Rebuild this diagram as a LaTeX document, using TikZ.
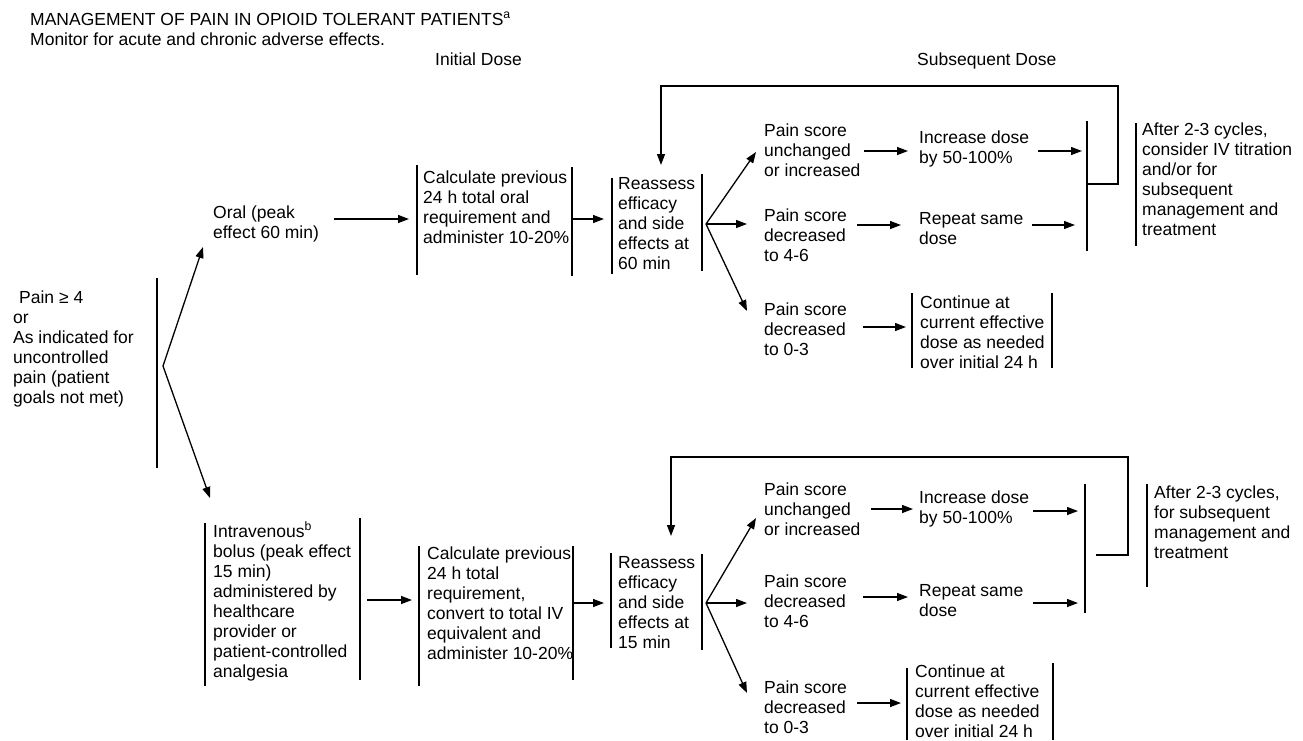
\documentclass[tikz,border=0pt]{standalone}
\usepackage{fontspec}
\setmainfont{Liberation Sans}
\usetikzlibrary{arrows.meta}
\newcommand\bodyfont{\fontsize{17.5}{20}\selectfont}
\newcommand\ml[1]{\begin{tabular}[t]{@{}l@{}}#1\end{tabular}}
\tikzset{
  bar/.style={line width=1.3pt},
  conn/.style={line width=1.3pt},
  arr/.style={line width=1.3pt,-{Triangle[length=11pt,width=8pt]}},
  txt/.style={anchor=base west, inner sep=0pt, font=\bodyfont},
}
\begin{document}
\begin{tikzpicture}[x=1pt,y=-1pt]
\useasboundingbox (0,0) rectangle (1303,740);
% headings
\node[txt] (title) at (30,25) {MANAGEMENT OF PAIN IN OPIOID TOLERANT PATIENTS\textsuperscript{a}};
\node[txt] (monitor) at (30,45) {Monitor for acute and chronic adverse effects.};
\node[txt] (initial) at (435,65) {Initial Dose};
\node[txt] (subseq) at (917,65) {Subsequent Dose};
% start
\node[txt] (start) at (13,303) {\ml{\hspace{6pt}Pain ≥ 4\\or\\As indicated for\\uncontrolled\\pain (patient\\goals not met)}};
\draw[bar] (157,278) -- (157,468);
\coordinate (apex) at (163,366);
\coordinate (oralTip) at (203,247);
\coordinate (ivTip) at (210,498);
\draw[arr] (apex) -- (oralTip);
\draw[arr] (apex) -- (ivTip);
% ===== upper (oral) =====
\node[txt] (oral) at (213,218) {\ml{Oral (peak\\effect 60 min)}};
\coordinate (a1s) at (334,219); \coordinate (a1e) at (409,219);
\draw[arr] (a1s) -- (a1e);
\draw[bar] (417,165) -- (417,275);
\draw[bar] (572,167) -- (572,276);
\node[txt] (calc1) at (423,183) {\ml{Calculate previous\\24 h total oral\\requirement and\\administer 10-20\%}};
\coordinate (a2s) at (572,219); \coordinate (a2e) at (604,219);
\draw[arr] (a2s) -- (a2e);
\draw[bar] (612,178) -- (612,274);
\draw[bar] (702,174) -- (702,271);
\node[txt] (reas1) at (618,189) {\ml{Reassess\\efficacy\\and side\\effects at\\60 min}};
% feedback loop
\coordinate (fb1a) at (1087,184); \coordinate (fb1e) at (661,165);
\draw[arr] (fb1a) -- (1118,184) -- (1118,86) -- (661,86) -- (fb1e);
% branches
\coordinate (br1) at (706,224);
\coordinate (b1u) at (756,152); \coordinate (b1m) at (747,224); \coordinate (b1d) at (747,311);
\draw[arr] (br1) -- (b1u);
\draw[arr] (br1) -- (b1m);
\draw[arr] (br1) -- (b1d);
\node[txt] (ps1u) at (764,136) {\ml{Pain score\\unchanged\\or increased}};
\node[txt] (ps1m) at (764,221) {\ml{Pain score\\decreased\\to 4-6}};
\node[txt] (ps1d) at (764,315) {\ml{Pain score\\decreased\\to 0-3}};
\coordinate (c1s) at (864,151); \coordinate (c1e) at (908,151);
\coordinate (c2s) at (857,225); \coordinate (c2e) at (901,225);
\coordinate (c3s) at (863,327); \coordinate (c3e) at (906,327);
\draw[arr] (c1s) -- (c1e);
\draw[arr] (c2s) -- (c2e);
\draw[arr] (c3s) -- (c3e);
\node[txt] (inc1) at (919,143) {\ml{Increase dose\\by 50-100\%}};
\node[txt] (rep1) at (919,224) {\ml{Repeat same\\dose}};
\draw[bar] (912,293) -- (912,368);
\draw[bar] (1052,293) -- (1052,368);
\node[txt] (cont1) at (920,308) {\ml{Continue at\\current effective\\dose as needed\\over initial 24 h}};
\coordinate (d1s) at (1038,151); \coordinate (d1e) at (1082,151);
\coordinate (d2s) at (1032,225); \coordinate (d2e) at (1075,225);
\draw[arr] (d1s) -- (d1e);
\draw[arr] (d2s) -- (d2e);
\draw[bar] (1087,121) -- (1087,251);
\draw[bar] (1136,123) -- (1136,246);
\node[txt] (after1) at (1142,135) {\ml{After 2-3 cycles,\\consider IV titration\\and/or for\\subsequent\\management and\\treatment}};
% ===== lower (IV) =====
\draw[bar] (205,523) -- (205,686);
\draw[bar] (360,518) -- (360,680);
\node[txt] (iv) at (213,537) {\ml{Intravenous\textsuperscript{b}\\bolus (peak effect\\15 min)\\administered by\\healthcare\\provider or\\patient-controlled\\analgesia}};
\coordinate (e1s) at (367,600); \coordinate (e1e) at (412,600);
\draw[arr] (e1s) -- (e1e);
\draw[bar] (419,546) -- (419,686);
\draw[bar] (573,546) -- (573,680);
\node[txt] (calc2) at (427,559) {\ml{Calculate previous\\24 h total\\requirement,\\convert to total IV\\equivalent and\\administer 10-20\%}};
\coordinate (e2s) at (572,603); \coordinate (e2e) at (604,603);
\draw[arr] (e2s) -- (e2e);
\draw[bar] (611,553) -- (611,648);
\draw[bar] (702,554) -- (702,650);
\node[txt] (reas2) at (618,568) {\ml{Reassess\\efficacy\\and side\\effects at\\15 min}};
% feedback loop
\coordinate (fb2a) at (1096,555); \coordinate (fb2e) at (671,536);
\draw[arr] (fb2a) -- (1128,555) -- (1128,457) -- (671,457) -- (fb2e);
% branches
\coordinate (br2) at (706,603);
\coordinate (b2u) at (756,518); \coordinate (b2m) at (747,603); \coordinate (b2d) at (747,693);
\draw[arr] (br2) -- (b2u);
\draw[arr] (br2) -- (b2m);
\draw[arr] (br2) -- (b2d);
\node[txt] (ps2u) at (764,495) {\ml{Pain score\\unchanged\\or increased}};
\node[txt] (ps2m) at (764,587) {\ml{Pain score\\decreased\\to 4-6}};
\node[txt] (ps2d) at (764,693) {\ml{Pain score\\decreased\\to 0-3}};
\coordinate (f1s) at (871,509); \coordinate (f1e) at (913,509);
\coordinate (f2s) at (863,597); \coordinate (f2e) at (908,597);
\coordinate (f3s) at (857,703); \coordinate (f3e) at (901,703);
\draw[arr] (f1s) -- (f1e);
\draw[arr] (f2s) -- (f2e);
\draw[arr] (f3s) -- (f3e);
\node[txt] (inc2) at (919,503) {\ml{Increase dose\\by 50-100\%}};
\node[txt] (rep2) at (919,596) {\ml{Repeat same\\dose}};
\draw[bar] (907,668) -- (907,740);
\draw[bar] (1053,663) -- (1053,740);
\node[txt] (cont2) at (915,677) {\ml{Continue at\\current effective\\dose as needed\\over initial 24 h}};
\coordinate (g1s) at (1033,511); \coordinate (g1e) at (1078,511);
\coordinate (g2s) at (1033,603); \coordinate (g2e) at (1078,603);
\draw[arr] (g1s) -- (g1e);
\draw[arr] (g2s) -- (g2e);
\draw[bar] (1085,484) -- (1085,613);
\draw[bar] (1147,484) -- (1147,587);
\node[txt] (after2) at (1154,498) {\ml{After 2-3 cycles,\\for subsequent\\management and\\treatment}};
\end{tikzpicture}
\end{document}
